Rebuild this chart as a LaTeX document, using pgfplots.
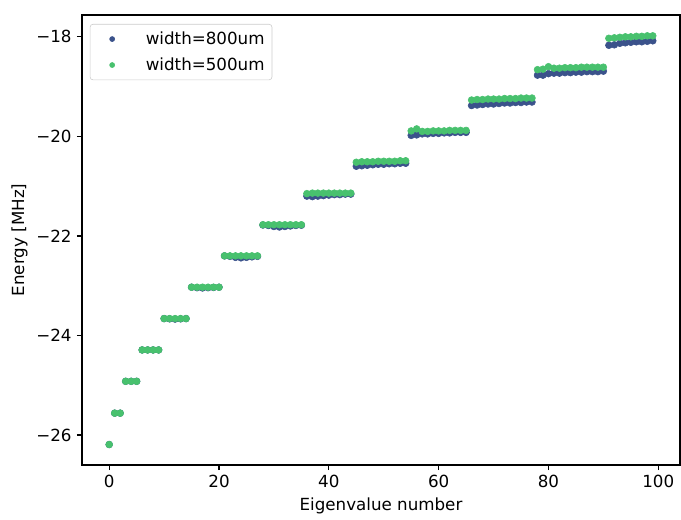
\documentclass[border=0pt]{standalone}
\usepackage{pgfplots}
\pgfplotsset{compat=1.18}
\usepackage{fontspec}
\setmainfont{DejaVu Sans}
\usetikzlibrary{calc}
\definecolor{cblue}{HTML}{3B528B}
\definecolor{cgreen}{HTML}{48C16E}
\definecolor{lframe}{HTML}{CCCCCC}
\begin{document}
\begin{tikzpicture}
\begin{axis}[
  name=ax,
  scale only axis,
  width=404.6pt, height=304.5pt,
  xmin=-4.95, xmax=103.95,
  ymin=-26.6, ymax=-17.56,
  xtick={0,20,40,60,80,100},
  ytick={-26,-24,-22,-20,-18},
  yticklabels={−26,−24,−22,−20,−18},
  /pgf/number format/assume math mode=true,
  tick align=outside,
  tick pos=left,
  major tick length=3.5pt,
  tick style={black, line width=0.8pt},
  axis line style={line width=0.8pt},
  ticklabel style={font=\fontsize{11.3}{13}\selectfont},
  label style={font=\fontsize{11.3}{13}\selectfont},
  xlabel={Eigenvalue number},
  ylabel={Energy [MHz]},
  xlabel style={yshift=0pt},
  ylabel style={yshift=-1pt},
  legend cell align=left,
  legend style={draw=lframe, rounded corners=2pt, font=\fontsize{11.3}{13}\selectfont,
    at={(0.013,0.98)}, anchor=north west, inner xsep=3pt, inner ysep=3pt,
    row sep=3.5pt},
  legend image code/.code={\path[draw=none,fill=none] (0cm,0cm) (1.15cm,0cm); \draw[mark size=1.7pt] plot coordinates {(0.42cm,0cm)};},
]
\addplot[only marks, mark=*, mark size=2.3pt, color=cblue, mark options={fill=cblue, draw=cblue}] coordinates {
(0,-26.19)
(1,-25.56) (2,-25.56)
(3,-24.92) (4,-24.92) (5,-24.92)
(6,-24.29) (7,-24.29) (8,-24.29) (9,-24.29)
(10,-23.66) (11,-23.665) (12,-23.67) (13,-23.665) (14,-23.66)
(15,-23.03) (16,-23.04) (17,-23.045) (18,-23.04) (19,-23.035) (20,-23.03)
(21,-22.40) (22,-22.41) (23,-22.43) (24,-22.44) (25,-22.43) (26,-22.42) (27,-22.41)
(28,-21.78) (29,-21.79) (30,-21.81) (31,-21.82) (32,-21.81) (33,-21.80) (34,-21.79) (35,-21.785)
(36,-21.20) (37,-21.21) (38,-21.20) (39,-21.19) (40,-21.18) (41,-21.17) (42,-21.17) (43,-21.16) (44,-21.16)
(45,-20.60) (46,-20.59) (47,-20.58) (48,-20.57) (49,-20.56) (50,-20.56) (51,-20.55) (52,-20.55) (53,-20.54) (54,-20.54)
(55,-19.98) (56,-19.97) (57,-19.95) (58,-19.95) (59,-19.94) (60,-19.94) (61,-19.93) (62,-19.93) (63,-19.92) (64,-19.92) (65,-19.92)
(66,-19.38) (67,-19.37) (68,-19.36) (69,-19.35) (70,-19.35) (71,-19.34) (72,-19.33) (73,-19.33) (74,-19.32) (75,-19.32) (76,-19.31) (77,-19.31)
(78,-18.77) (79,-18.77) (80,-18.74) (81,-18.73) (82,-18.73) (83,-18.72) (84,-18.72) (85,-18.71) (86,-18.71) (87,-18.70) (88,-18.70) (89,-18.70) (90,-18.69)
(91,-18.17) (92,-18.16) (93,-18.13) (94,-18.12) (95,-18.11) (96,-18.10) (97,-18.10) (98,-18.09) (99,-18.08)
};
\addlegendentry{width=800um}
\addplot[only marks, mark=*, mark size=2.3pt, color=cgreen, mark options={fill=cgreen, draw=cgreen}] coordinates {
(0,-26.19)
(1,-25.56) (2,-25.56)
(3,-24.92) (4,-24.92) (5,-24.92)
(6,-24.29) (7,-24.29) (8,-24.29) (9,-24.29)
(10,-23.66) (11,-23.66) (12,-23.66) (13,-23.66) (14,-23.66)
(15,-23.03) (16,-23.03) (17,-23.03) (18,-23.03) (19,-23.03) (20,-23.03)
(21,-22.40) (22,-22.40) (23,-22.40) (24,-22.40) (25,-22.40) (26,-22.40) (27,-22.40)
(28,-21.775) (29,-21.775) (30,-21.775) (31,-21.775) (32,-21.775) (33,-21.775) (34,-21.775) (35,-21.775)
(36,-21.15) (37,-21.14) (38,-21.14) (39,-21.14) (40,-21.14) (41,-21.14) (42,-21.14) (43,-21.14) (44,-21.14)
(45,-20.52) (46,-20.51) (47,-20.51) (48,-20.51) (49,-20.50) (50,-20.50) (51,-20.50) (52,-20.50) (53,-20.49) (54,-20.49)
(55,-19.89) (56,-19.85) (57,-19.90) (58,-19.90) (59,-19.89) (60,-19.89) (61,-19.89) (62,-19.88) (63,-19.88) (64,-19.88) (65,-19.88)
(66,-19.27) (67,-19.26) (68,-19.26) (69,-19.25) (70,-19.25) (71,-19.25) (72,-19.24) (73,-19.24) (74,-19.24) (75,-19.23) (76,-19.23) (77,-19.23)
(78,-18.66) (79,-18.65) (80,-18.60) (81,-18.63) (82,-18.63) (83,-18.62) (84,-18.62) (85,-18.62) (86,-18.61) (87,-18.61) (88,-18.61) (89,-18.61) (90,-18.61)
(91,-18.03) (92,-18.02) (93,-18.01) (94,-18.00) (95,-18.00) (96,-17.99) (97,-17.99) (98,-17.98) (99,-17.98)
};
\addlegendentry{width=500um}
\end{axis}
\path[use as bounding box] ($(ax.south west)+(-55.5pt,-35.2pt)$) rectangle ($(ax.north east)+(0.7pt,10.1pt)$);
\end{tikzpicture}
\end{document}
